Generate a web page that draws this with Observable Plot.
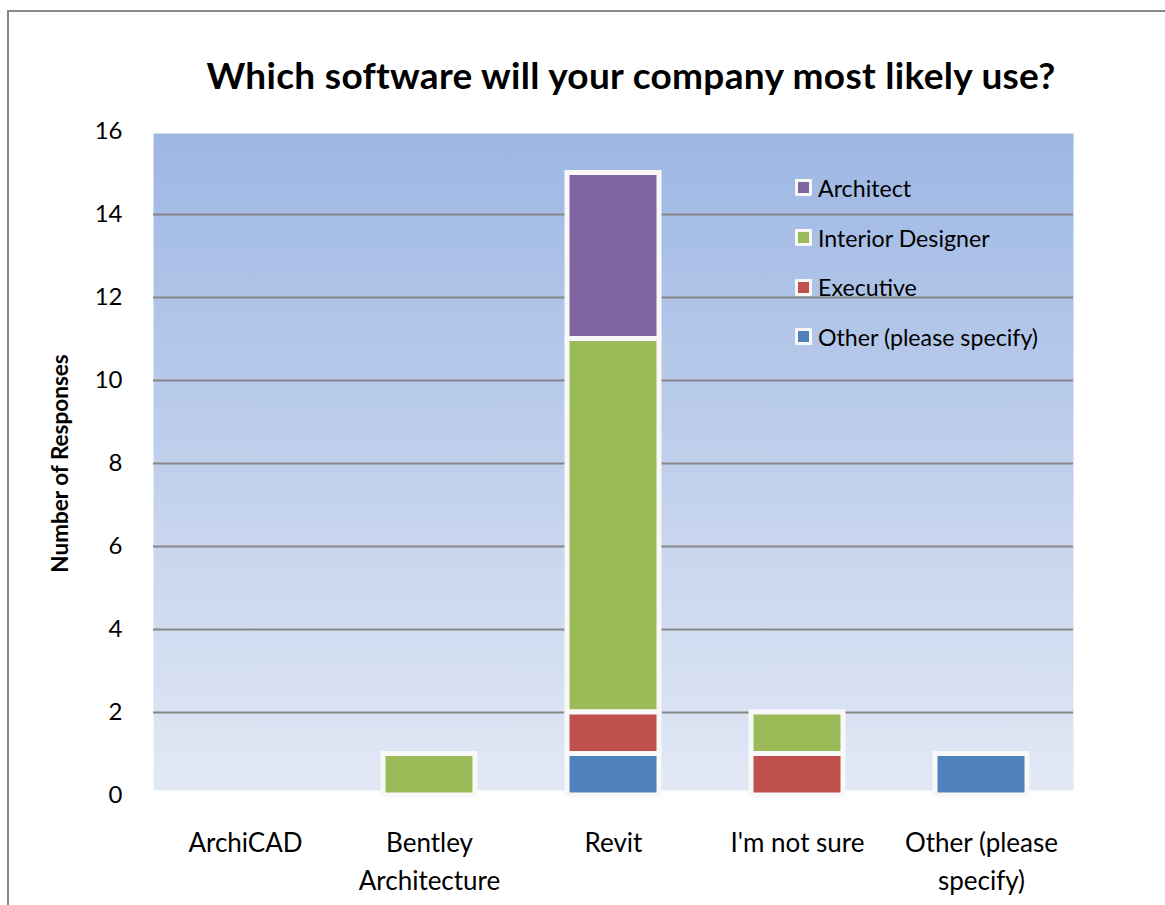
<!DOCTYPE html>
<html><head><meta charset="utf-8">
<script src="https://cdn.jsdelivr.net/npm/d3@7"></script>
<script src="https://cdn.jsdelivr.net/npm/@observablehq/plot@0.6"></script>
<style>
body{margin:0;background:#fff;overflow:hidden;width:1165px;height:905px;position:relative;font-family:Lato,sans-serif}
#border{position:absolute;left:7px;top:10px;width:1300px;height:1100px;border:2px solid #888;box-sizing:border-box}
#title{position:absolute;left:0;width:1262px;top:52px;text-align:center;font-weight:bold;font-size:37px;letter-spacing:0.3px;line-height:46px;color:#000}
#chart{position:absolute;left:0;top:110px}
#legend{position:absolute;left:795px;top:163px}
.item{display:flex;align-items:center;height:49.7px;font-size:23.2px;color:#000}
.sw{width:17px;height:17px;background:#f8f8f8;box-sizing:border-box;border:3px solid #f8f8f8;margin-right:6px;border-radius:1px}
</style></head>
<body>
<div id="border"></div>
<div id="title">Which software will your company most likely use?</div>
<div id="chart"></div>
<div id="legend"></div>
<script>
const categories = ["ArchiCAD", "Bentley Architecture", "Revit", "I'm not sure", "Other (please specify)"];
const xLabels = ["ArchiCAD", "Bentley\nArchitecture", "Revit", "I'm not sure", "Other (please\nspecify)"];
const series = ["Architect", "Interior Designer", "Executive", "Other (please specify)"];
const colors = ["#8064a2", "#9bbb59", "#c0504d", "#4f81bd"];
const stackOrder = ["Other (please specify)", "Executive", "Interior Designer", "Architect"];
const architect = [0, 0, 4, 0, 0];
const interiorDesigner = [0, 1, 9, 1, 0];
const executive = [0, 0, 1, 1, 0];
const otherSpecify = [0, 0, 1, 0, 1];
const yTicks = [0, 2, 4, 6, 8, 10, 12, 14, 16];
const gridTicks = [2, 4, 6, 8, 10, 12, 14];
const yTitle = ["Number of Responses"];

const valuesBySeries = [architect, interiorDesigner, executive, otherSpecify];
const data = series.flatMap((s, i) => categories.map((c, j) => ({category: c, series: s, value: valuesBySeries[i][j]})))
  .filter(d => d.value > 0);

const defs = () => {
  const g = d3.create("svg:defs");
  const lg = g.append("linearGradient").attr("id", "bg").attr("x1", 0).attr("y1", 0).attr("x2", 0).attr("y2", 1);
  lg.append("stop").attr("offset", "0%").attr("stop-color", "#9db7e3");
  lg.append("stop").attr("offset", "100%").attr("stop-color", "#e2e8f5");
  return g.node();
};

const chart = Plot.plot({
  width: 1165, height: 795,
  marginLeft: 153, marginRight: 92, marginTop: 21, marginBottom: 110,
  style: {fontFamily: "Lato, sans-serif", background: "transparent", color: "#000"},
  x: {domain: categories, paddingInner: 0.5, paddingOuter: 0.25, label: null},
  y: {domain: [0, 16], label: null},
  color: {domain: series, range: colors},
  marks: [
    defs,
    Plot.frame({fill: "url(#bg)", insetTop: 2, insetBottom: 5}),
    Plot.ruleY(gridTicks, {stroke: "#868686", strokeWidth: 2}),
    Plot.barY(data, {x: "category", y: "value", fill: "series", order: stackOrder, stroke: "#f8f8f8", strokeWidth: 5}),
    Plot.axisY({ticks: yTicks, tickSize: 0, tickPadding: 31, fontSize: 24, label: null}),
    Plot.text(yTitle, {text: d => d, frameAnchor: "left", rotate: -90, dx: -93, fontSize: 22.5, fontWeight: "bold", textAnchor: "middle", lineAnchor: "middle", fill: "#000"}),
    Plot.axisX({tickSize: 0, tickPadding: 30, fontSize: 26, lineHeight: 1.46, tickFormat: d => xLabels[categories.indexOf(d)], label: null})
  ]
});
document.getElementById("chart").append(chart);

const legend = document.getElementById("legend");
series.forEach((s, i) => {
  const item = document.createElement("div");
  item.className = "item";
  const sw = document.createElement("div");
  sw.className = "sw";
  sw.style.background = colors[i];
  const t = document.createElement("span");
  t.textContent = s;
  item.append(sw, t);
  legend.append(item);
});
</script>
</body></html>
